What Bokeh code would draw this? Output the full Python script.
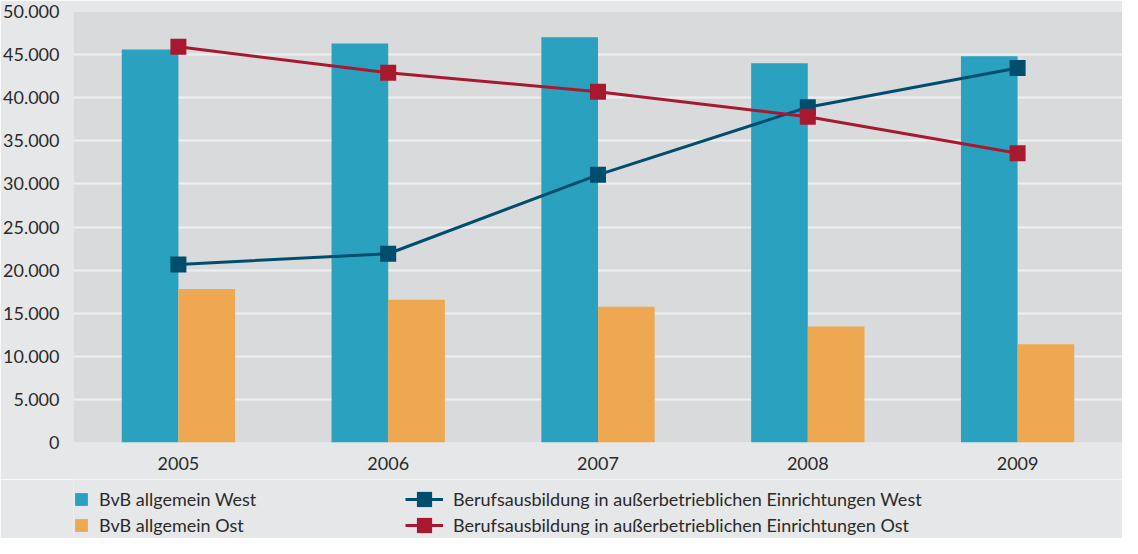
from bokeh.plotting import figure
from bokeh.models import (FactorRange, Range1d, FixedTicker, CustomJSTickFormatter,
                          Legend, LegendItem, ColumnDataSource)
from bokeh.layouts import column
from bokeh.transform import dodge
from bokeh.embed import file_html
from bokeh.resources import INLINE

years = ["2005", "2006", "2007", "2008", "2009"]
bvb_west = [45600, 46300, 47000, 44000, 44800]
bvb_ost = [17800, 16550, 15750, 13450, 11400]
bae_west = [20650, 21900, 31050, 38900, 43450]
bae_ost = [45900, 42900, 40700, 37800, 33550]

labels = ["BvB allgemein West", "BvB allgemein Ost",
          "Berufsausbildung in außerbetrieblichen Einrichtungen West",
          "Berufsausbildung in außerbetrieblichen Einrichtungen Ost"]

FONT = "Lato"
TXT = "#2b2a29"
BG = "#e6e7e9"
PLOT_BG = "#d9dadc"
C_WEST = "#29a1bf"
C_OST = "#eda851"
C_LW = "#004e6d"
C_LO = "#a8192f"

src = ColumnDataSource(dict(year=years, bw=bvb_west, bo=bvb_ost, lw=bae_west, lo=bae_ost))

p = figure(width=1122, height=479, x_range=FactorRange(*years), y_range=Range1d(0, 50000),
           output_backend="svg", toolbar_location=None,
           min_border_left=65, min_border_right=0, min_border_top=11, min_border_bottom=37)
p.background_fill_color = PLOT_BG
p.border_fill_color = BG
p.outline_line_color = None

bw = 0.27
p.vbar(x=dodge("year", -bw / 2, range=p.x_range), top="bw", width=bw, source=src,
       fill_color=C_WEST, line_color=None)
p.vbar(x=dodge("year", bw / 2, range=p.x_range), top="bo", width=bw, source=src,
       fill_color=C_OST, line_color=None)
p.line(x="year", y="lw", source=src, line_color=C_LW, line_width=3)
p.scatter(x="year", y="lw", source=src, marker="square", size=16,
          fill_color=C_LW, line_color=None)
p.line(x="year", y="lo", source=src, line_color=C_LO, line_width=3)
p.scatter(x="year", y="lo", source=src, marker="square", size=16,
          fill_color=C_LO, line_color=None)

p.yaxis.ticker = FixedTicker(ticks=list(range(0, 50001, 5000)))
p.yaxis.formatter = CustomJSTickFormatter(code="""
const s = Math.round(tick).toString();
return s.replace(/\\B(?=(\\d{3})+(?!\\d))/g, ".");
""")
for ax in (p.xaxis[0], p.yaxis[0]):
    ax.axis_line_color = None
    ax.major_tick_line_color = None
    ax.minor_tick_line_color = None
    ax.major_label_text_font = FONT
    ax.major_label_text_font_size = "18px"
    ax.major_label_text_color = TXT
    ax.major_label_standoff = 8
p.xgrid.grid_line_color = None
p.ygrid.ticker = FixedTicker(ticks=list(range(5000, 50000, 5000)))
p.ygrid.grid_line_color = "#eeeff1"
p.ygrid.grid_line_width = 2

# legend strip below the chart
lf = figure(width=1122, height=59, x_range=Range1d(0, 10), y_range=Range1d(0, 10),
            output_backend="svg", toolbar_location=None,
            min_border_left=0, min_border_right=0, min_border_top=0, min_border_bottom=0)
lf.axis.visible = False
lf.grid.visible = False
lf.background_fill_color = BG
lf.border_fill_color = BG
lf.outline_line_color = None

# legend-only renderers (single point far outside the visible range)
off = [-100]
d1 = lf.vbar(x=off, top=off, width=1, fill_color=C_WEST, line_color=None)
d2 = lf.vbar(x=off, top=off, width=1, fill_color=C_OST, line_color=None)
d3l = lf.line(x=off, y=off, line_color=C_LW, line_width=3)
d3s = lf.scatter(x=off, y=off, marker="square", fill_color=C_LW, line_color=None)
d4l = lf.line(x=off, y=off, line_color=C_LO, line_width=3)
d4s = lf.scatter(x=off, y=off, marker="square", fill_color=C_LO, line_color=None)


def mk_legend(item, loc, gw, gh):
    lg = Legend(items=[item], location=loc, glyph_width=gw, glyph_height=gh,
                padding=0, margin=0, spacing=0, label_standoff=10,
                label_text_font=FONT, label_text_font_size="18px", label_text_color=TXT,
                label_height=16, border_line_color=None, background_fill_alpha=0)
    lf.add_layout(lg, "center")


mk_legend(LegendItem(label=labels[0], renderers=[d1]), (0, 28), 16, 16)
mk_legend(LegendItem(label=labels[1], renderers=[d2]), (0, 2), 16, 16)
mk_legend(LegendItem(label=labels[2], renderers=[d3l, d3s]), (332, 19), 38, 40)
mk_legend(LegendItem(label=labels[3], renderers=[d4l, d4s]), (332, -7), 38, 40)

open("out.html", "w").write(file_html(column(p, lf), INLINE))
